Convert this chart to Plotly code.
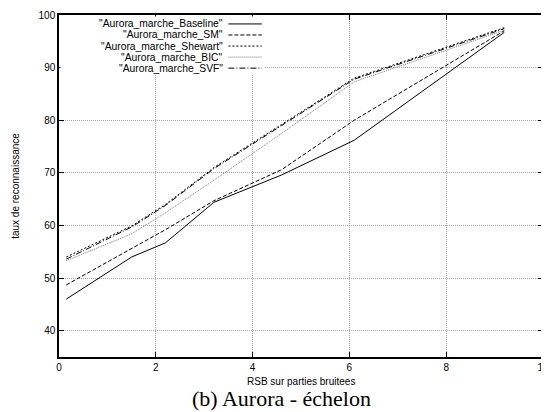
import plotly.graph_objects as go

x_rsb = [0.15, 1.5, 2.2, 3.2, 4.6, 6.1, 9.2]
baseline = [46.0, 54.0, 56.7, 64.4, 69.6, 76.2, 96.7]
sm = [48.7, 55.7, 59.2, 64.7, 70.6, 80.0, 97.0]
shewart = [54.0, 59.9, 64.0, 71.0, 79.2, 88.0, 97.6]
bic = [53.3, 58.4, 62.4, 68.6, 77.5, 87.3, 97.1]
svf = [53.6, 59.7, 63.8, 70.8, 79.0, 87.8, 97.4]

names = ['"Aurora_marche_Baseline"', '"Aurora_marche_SM"', '"Aurora_marche_Shewart"',
         '"Aurora_marche_BIC"', '"Aurora_marche_SVF"']
series = [baseline, sm, shewart, bic, svf]
dashes = ["solid", "4px,2px", "2px,2px", "1px,1px", "6px,2px,1px,2px"]
colors = ["#000000", "#000000", "#000000", "#777777", "#000000"]

x_ticks = [0, 2, 4, 6, 8, 10]
y_ticks = [40, 50, 60, 70, 80, 90, 100]

fig = go.Figure()
for n, s, d, c in zip(names, series, dashes, colors):
    fig.add_trace(go.Scatter(x=x_rsb, y=s, mode="lines", name=n,
                             line=dict(color=c, width=1, dash=d), showlegend=False))

# legend box (gnuplot style: text right, sample on right)
fig.add_shape(type="rect", xref="x", yref="y", x0=0.03, x1=4.25, y0=88.7, y1=99.7,
              fillcolor="white", line_width=0, layer="above")
row_y = [98.3, 96.2, 94.1, 92.0, 89.9]
for n, d, c, ry in zip(names, dashes, colors, row_y):
    fig.add_annotation(x=3.43, y=ry, xref="x", yref="y", text=n, showarrow=False,
                       xanchor="right", yanchor="middle",
                       font=dict(family="Liberation Sans, Arial", size=10.3, color="black"))
    fig.add_shape(type="line", xref="x", yref="y", x0=3.5, x1=4.19, y0=ry, y1=ry,
                  line=dict(color=c, width=1, dash=d), layer="above")

fig.add_annotation(x=0.5, y=-0.073, xref="paper", yref="paper", text="RSB sur parties bruitees",
                   showarrow=False, yanchor="middle",
                   font=dict(family="Liberation Sans, Arial", size=10, color="black"))
fig.add_annotation(x=0.459, y=-0.12, xref="paper", yref="paper", text="(b) Aurora - échelon",
                   showarrow=False, yanchor="middle",
                   font=dict(family="Liberation Serif, Times New Roman", size=22, color="black"))

axis_common = dict(showline=True, linecolor="black", linewidth=1.5, mirror="ticks",
                   ticks="inside", ticklen=5, tickcolor="black", tickwidth=1,
                   showgrid=True, gridcolor="#a8a8a8", griddash="1px,1px", gridwidth=1,
                   zeroline=False, automargin=False,
                   tickfont=dict(family="Liberation Sans, Arial", size=10, color="black"))

fig.update_xaxes(range=[0, 10], tickvals=x_ticks, **axis_common)
fig.update_yaxes(range=[35, 100], tickvals=y_ticks,
                 title=dict(text="taux de reconnaissance", standoff=17,
                            font=dict(family="Liberation Sans, Arial", size=10, color="black")),
                 **axis_common)

# page body adds ~8px offset; compensate so plot area lands at 59..543 x 15..357
fig.update_layout(width=541, height=404, margin=dict(l=51, r=6, t=7, b=55),
                  paper_bgcolor="white", plot_bgcolor="white", showlegend=False)

fig.write_html("out.html")
